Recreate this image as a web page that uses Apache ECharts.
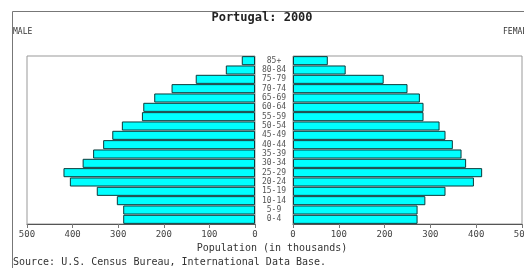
<!DOCTYPE html>
<html>
<head>
<meta charset="utf-8">
<script src="https://cdn.jsdelivr.net/npm/echarts@6/dist/echarts.min.js"></script>
<style>
  html, body { margin: 0; padding: 0; background: #fff; }
  #main { width: 524px; height: 268px; }
</style>
</head>
<body>
<div id="main"></div>
<script>
var ages = ['0-4','5-9','10-14','15-19','20-24','25-29','30-34','35-39','40-44','45-49','50-54','55-59','60-64','65-69','70-74','75-79','80-84','85+'];
var male = [289, 289, 303, 347, 406, 420, 378, 355, 333, 313, 292, 248, 245, 221, 183, 130, 64, 29];
var female = [272, 272, 289, 333, 395, 413, 378, 368, 349, 333, 320, 285, 285, 277, 250, 198, 115, 76];
var popTicks = [0, 100, 200, 300, 400, 500];

var mono = '"DejaVu Sans Mono", "Liberation Mono", monospace';
var myChart = echarts.init(document.getElementById('main'), null, {renderer: 'canvas'});

var barStyle = {
    color: '#00ffff',
    borderColor: '#0a3a3a',
    borderWidth: 1
};

function valueAxis(idx, inverse) {
    return {
        type: 'value',
        gridIndex: idx,
        inverse: inverse,
        min: popTicks[0],
        max: popTicks[popTicks.length - 1],
        interval: 100,
        axisLine: {show: true, lineStyle: {color: '#555'}},
        axisTick: {show: true, length: 4, lineStyle: {color: '#777'}},
        splitLine: {show: false},
        axisLabel: {
            color: '#444',
            fontFamily: mono,
            fontSize: 9,
            margin: 6
        }
    };
}

var option = {
    animation: false,
    backgroundColor: '#fff',
    grid: [
        {left: 27, right: 269, top: 56, bottom: 44, show: true, borderColor: '#999', borderWidth: 1, outerBoundsMode: 'none', containLabel: false},
        {left: 293, right: 2, top: 56, bottom: 44, show: true, borderColor: '#999', borderWidth: 1, outerBoundsMode: 'none', containLabel: false}
    ],
    xAxis: [valueAxis(0, true), valueAxis(1, false)],
    yAxis: [
        {
            type: 'category',
            gridIndex: 0,
            data: ages,
            position: 'right',
            axisLine: {show: false},
            axisTick: {show: false},
            axisLabel: {show: false}
        },
        {
            type: 'category',
            gridIndex: 1,
            data: ages,
            axisLine: {show: false},
            axisTick: {show: false},
            axisLabel: {
                interval: 0,
                align: 'center',
                margin: 19,
                color: '#555',
                fontFamily: mono,
                fontSize: 8
            }
        }
    ],
    series: [
        {
            name: 'Male',
            type: 'bar',
            xAxisIndex: 0,
            yAxisIndex: 0,
            data: male,
            barCategoryGap: '3%',
            itemStyle: barStyle
        },
        {
            name: 'Female',
            type: 'bar',
            xAxisIndex: 1,
            yAxisIndex: 1,
            data: female,
            barCategoryGap: '3%',
            itemStyle: barStyle
        }
    ],
    graphic: [
        // outer frame lines
        {type: 'line', shape: {x1: 12.5, y1: 11.5, x2: 524, y2: 11.5}, style: {stroke: '#777', lineWidth: 1}},
        {type: 'line', shape: {x1: 12.5, y1: 11.5, x2: 12.5, y2: 268}, style: {stroke: '#777', lineWidth: 1}},
        {type: 'text', x: 262, y: 12, style: {text: 'Portugal: 2000', font: 'bold 12px ' + mono, fill: '#222', textAlign: 'center'}},
        {type: 'text', x: 13, y: 28, style: {text: 'MALE', font: '8px ' + mono, fill: '#333'}},
        {type: 'text', x: 503, y: 28, style: {text: 'FEMALE', font: '8px ' + mono, fill: '#333'}},
        {type: 'text', x: 272, y: 243, style: {text: 'Population (in thousands)', font: '10px ' + mono, fill: '#333', textAlign: 'center'}},
        {type: 'text', x: 13, y: 257, style: {text: 'Source: U.S. Census Bureau, International Data Base.', font: '10px ' + mono, fill: '#333'}}
    ]
};

myChart.setOption(option, true);
</script>
</body>
</html>
